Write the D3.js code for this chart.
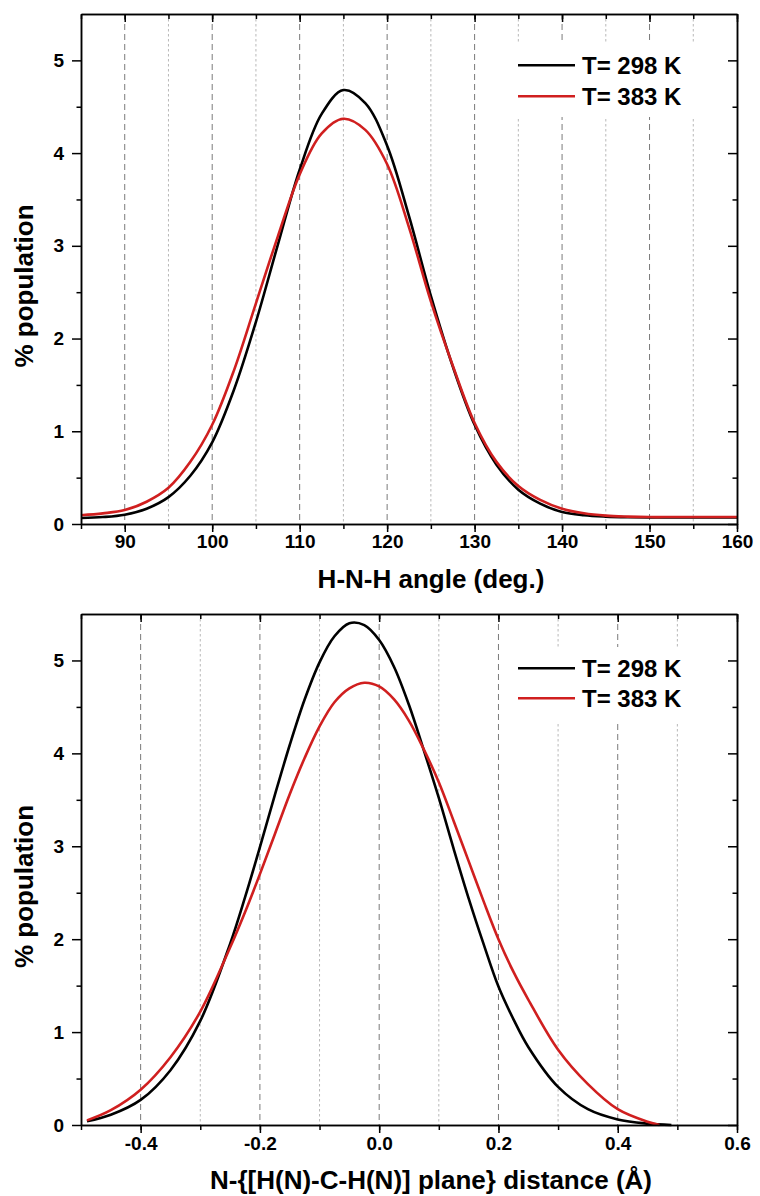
<!doctype html>
<html lang="en">
<head>
<meta charset="utf-8"/>
<title>% population vs H-N-H angle and N-plane distance</title>
<script src="https://d3js.org/d3.v7.min.js"></script>
<style>
  body { margin: 0; background: #fff; }
  svg text { font-family: "Liberation Sans", Arial, sans-serif; font-weight: bold; fill: #000; }
  .axis path, .axis line { stroke: #000; stroke-width: 1.5; }
</style>
</head>
<body>
<div id="chart"></div>
<script>
// ---- top panel: H-N-H angle (deg.)
var angleX = [85, 87.5, 90, 92.5, 95, 97.5, 100, 102.5, 105, 107.5, 110, 112.5, 115, 117.5, 120,
              122.5, 125, 127.5, 130, 132.5, 135, 137.5, 140, 142.5, 145, 147.5, 150, 152.5, 155, 157.5, 160];
var angle298 = [0.065, 0.075, 0.10, 0.165, 0.29, 0.52, 0.88, 1.45, 2.18, 3.01, 3.82, 4.42, 4.68, 4.54, 4.08,
                3.32, 2.46, 1.70, 1.07, 0.64, 0.37, 0.22, 0.13, 0.095, 0.08, 0.073, 0.07, 0.07, 0.07, 0.07, 0.07];
var angle383 = [0.095, 0.115, 0.15, 0.24, 0.39, 0.67, 1.07, 1.66, 2.38, 3.10, 3.77, 4.21, 4.37, 4.25, 3.88,
                3.20, 2.40, 1.71, 1.09, 0.67, 0.41, 0.26, 0.165, 0.115, 0.09, 0.08, 0.075, 0.075, 0.075, 0.075, 0.075];
var angleTicks = [90, 100, 110, 120, 130, 140, 150, 160];

// ---- bottom panel: N-{[H(N)-C-H(N)] plane} distance
var distX298 = [-0.49, -0.45, -0.40, -0.35, -0.30, -0.25, -0.225, -0.20, -0.175, -0.15, -0.125, -0.10, -0.075, -0.05, -0.025,
                0.00, 0.025, 0.05, 0.075, 0.10, 0.125, 0.15, 0.175, 0.20, 0.225, 0.25, 0.30, 0.35, 0.40, 0.45, 0.49];
var dist298  = [0.04, 0.11, 0.27, 0.59, 1.12, 1.95, 2.45, 2.99, 3.55, 4.09, 4.58, 4.98, 5.26, 5.40, 5.38,
                5.22, 4.93, 4.52, 4.03, 3.52, 2.97, 2.44, 1.95, 1.49, 1.14, 0.84, 0.41, 0.17, 0.06, 0.015, 0.0];
var distX383 = [-0.49, -0.45, -0.40, -0.35, -0.30, -0.25, -0.225, -0.20, -0.175, -0.15, -0.125, -0.10, -0.075, -0.05, -0.025,
                0.00, 0.025, 0.05, 0.075, 0.10, 0.125, 0.15, 0.175, 0.20, 0.225, 0.25, 0.30, 0.35, 0.40, 0.45, 0.47];
var dist383  = [0.05, 0.16, 0.38, 0.73, 1.22, 1.91, 2.29, 2.70, 3.13, 3.56, 3.95, 4.29, 4.55, 4.70, 4.76,
                4.72, 4.58, 4.35, 4.04, 3.69, 3.27, 2.84, 2.41, 2.00, 1.65, 1.35, 0.81, 0.44, 0.17, 0.035, 0.0];
var distTicks = [-0.4, -0.2, 0.0, 0.2, 0.4, 0.6];

var yTicks = [0, 1, 2, 3, 4, 5];
var seriesNames = ["T= 298 K", "T= 383 K"];
var seriesColors = ["#000000", "#d01f1f"];

var W = 760, H = 1196;
var svg = d3.select("#chart").append("svg")
  .attr("width", W)
  .attr("height", H);

function panel(opt) {
  var left = 81, right = 737;
  var x = d3.scaleLinear().domain(opt.xDomain).range([left, right]);
  var y = d3.scaleLinear().domain([0, 5.5]).range([opt.bottom, opt.top]);
  var g = svg.append("g");

  // vertical grid
  g.selectAll("line.grid")
    .data(opt.grid)
    .enter()
    .append("line")
    .attr("class", "grid")
    .attr("x1", function(d) { return x(d.v); })
    .attr("x2", function(d) { return x(d.v); })
    .attr("y1", opt.top)
    .attr("y2", opt.bottom)
    .attr("stroke", function(d) { return d.major ? "#7a7a7a" : "#b8b8b8"; })
    .attr("stroke-width", 1)
    .attr("stroke-dasharray", function(d) { return d.major ? "6,4" : "2.5,2.5"; });

  // legend background hides grid
  g.append("rect")
    .attr("x", 505)
    .attr("y", opt.top + opt.legTop)
    .attr("width", 200)
    .attr("height", 75)
    .attr("fill", "#fff");

  // curves
  var line = d3.line()
    .x(function(d) { return x(d[0]); })
    .y(function(d) { return y(d[1]); })
    .curve(d3.curveCatmullRom.alpha(0.5));

  opt.series.forEach(function(s, i) {
    g.append("path")
      .datum(d3.zip(s.x, s.y))
      .attr("fill", "none")
      .attr("stroke", seriesColors[i])
      .attr("stroke-width", 2.6)
      .attr("d", line);
  });

  // axes
  g.append("g").attr("class", "axis")
    .attr("transform", "translate(0," + opt.bottom + ")")
    .call(d3.axisBottom(x).tickValues(opt.minorX).tickSize(5).tickSizeOuter(0).tickFormat(""));
  g.append("g").attr("class", "axis xlab")
    .attr("transform", "translate(0," + opt.bottom + ")")
    .call(d3.axisBottom(x).tickValues(opt.xTicks).tickSize(8).tickSizeOuter(0).tickPadding(opt.xPad)
      .tickFormat(opt.fmt));
  g.append("g").attr("class", "axis")
    .attr("transform", "translate(0," + opt.top + ")")
    .call(d3.axisBottom(x).tickValues(opt.minorX).tickSize(5).tickSizeOuter(0).tickFormat(""));
  g.append("g").attr("class", "axis")
    .attr("transform", "translate(0," + opt.top + ")")
    .call(d3.axisBottom(x).tickValues(opt.xTicks).tickSize(8).tickSizeOuter(0).tickFormat(""));

  var yMinor = d3.range(0.5, 5.5, 1);
  g.append("g").attr("class", "axis")
    .attr("transform", "translate(" + left + ",0)")
    .call(d3.axisLeft(y).tickValues(yMinor).tickSize(4.5).tickSizeOuter(0).tickFormat(""));
  g.append("g").attr("class", "axis ylab")
    .attr("transform", "translate(" + left + ",0)")
    .call(d3.axisLeft(y).tickValues(yTicks).tickSize(9).tickSizeOuter(0).tickPadding(8).tickFormat(d3.format("d")));
  g.append("g").attr("class", "axis")
    .attr("transform", "translate(" + right + ",0)")
    .call(d3.axisLeft(y).tickValues(yMinor).tickSize(4.5).tickSizeOuter(0).tickFormat(""));
  g.append("g").attr("class", "axis")
    .attr("transform", "translate(" + right + ",0)")
    .call(d3.axisLeft(y).tickValues(yTicks).tickSize(9).tickSizeOuter(0).tickFormat(""));

  g.selectAll(".xlab text, .ylab text")
    .style("font-size", "19px")
    .style("font-family", "'Liberation Sans', Arial, sans-serif")
    .style("font-weight", "bold")
    .attr("fill", "#000");

  // axis titles
  g.append("text")
    .attr("x", 431)
    .attr("y", opt.bottom + 64)
    .attr("text-anchor", "middle")
    .style("font-size", "26px")
    .text(opt.xTitle);
  g.append("text")
    .attr("transform", "translate(33," + ((opt.top + opt.bottom) / 2 + 17) + ") rotate(-90)")
    .attr("text-anchor", "middle")
    .style("font-size", "26px")
    .text("% population");

  // legend
  seriesNames.forEach(function(name, i) {
    var base = opt.top + opt.legBase[i];
    g.append("line")
      .attr("x1", 518).attr("x2", 575)
      .attr("y1", base - 8.7).attr("y2", base - 8.7)
      .attr("stroke", seriesColors[i])
      .attr("stroke-width", 2.6);
    g.append("text")
      .attr("x", 582)
      .attr("y", base)
      .style("font-size", "24px")
      .text(name);
  });
}

panel({
  xDomain: [85, 160],
  top: 14,
  bottom: 524,
  xTicks: angleTicks,
  minorX: d3.range(85, 161, 5),
  grid: d3.range(90, 160, 5).map(function(v) { return { v: v, major: v % 10 === 0 }; }),
  fmt: function(d) { return String(d); },
  xPad: 3,
  xTitle: "H-N-H angle (deg.)",
  legTop: 28,
  legBase: [60, 91],
  series: [{ x: angleX, y: angle298 }, { x: angleX, y: angle383 }]
});

panel({
  xDomain: [-0.5, 0.6],
  top: 614,
  bottom: 1125,
  xTicks: distTicks,
  minorX: d3.range(-5, 7).map(function(i) { return i / 10; }),
  grid: d3.range(-4, 6).map(function(i) { return { v: i / 10, major: i % 2 === 0 }; }),
  fmt: function(d) { return d.toFixed(1); },
  xPad: 4,
  xTitle: "N-{[H(N)-C-H(N)] plane} distance (\u00c5)",
  legTop: 33,
  legBase: [63, 93],
  series: [{ x: distX298, y: dist298 }, { x: distX383, y: dist383 }]
});
</script>
</body>
</html>
